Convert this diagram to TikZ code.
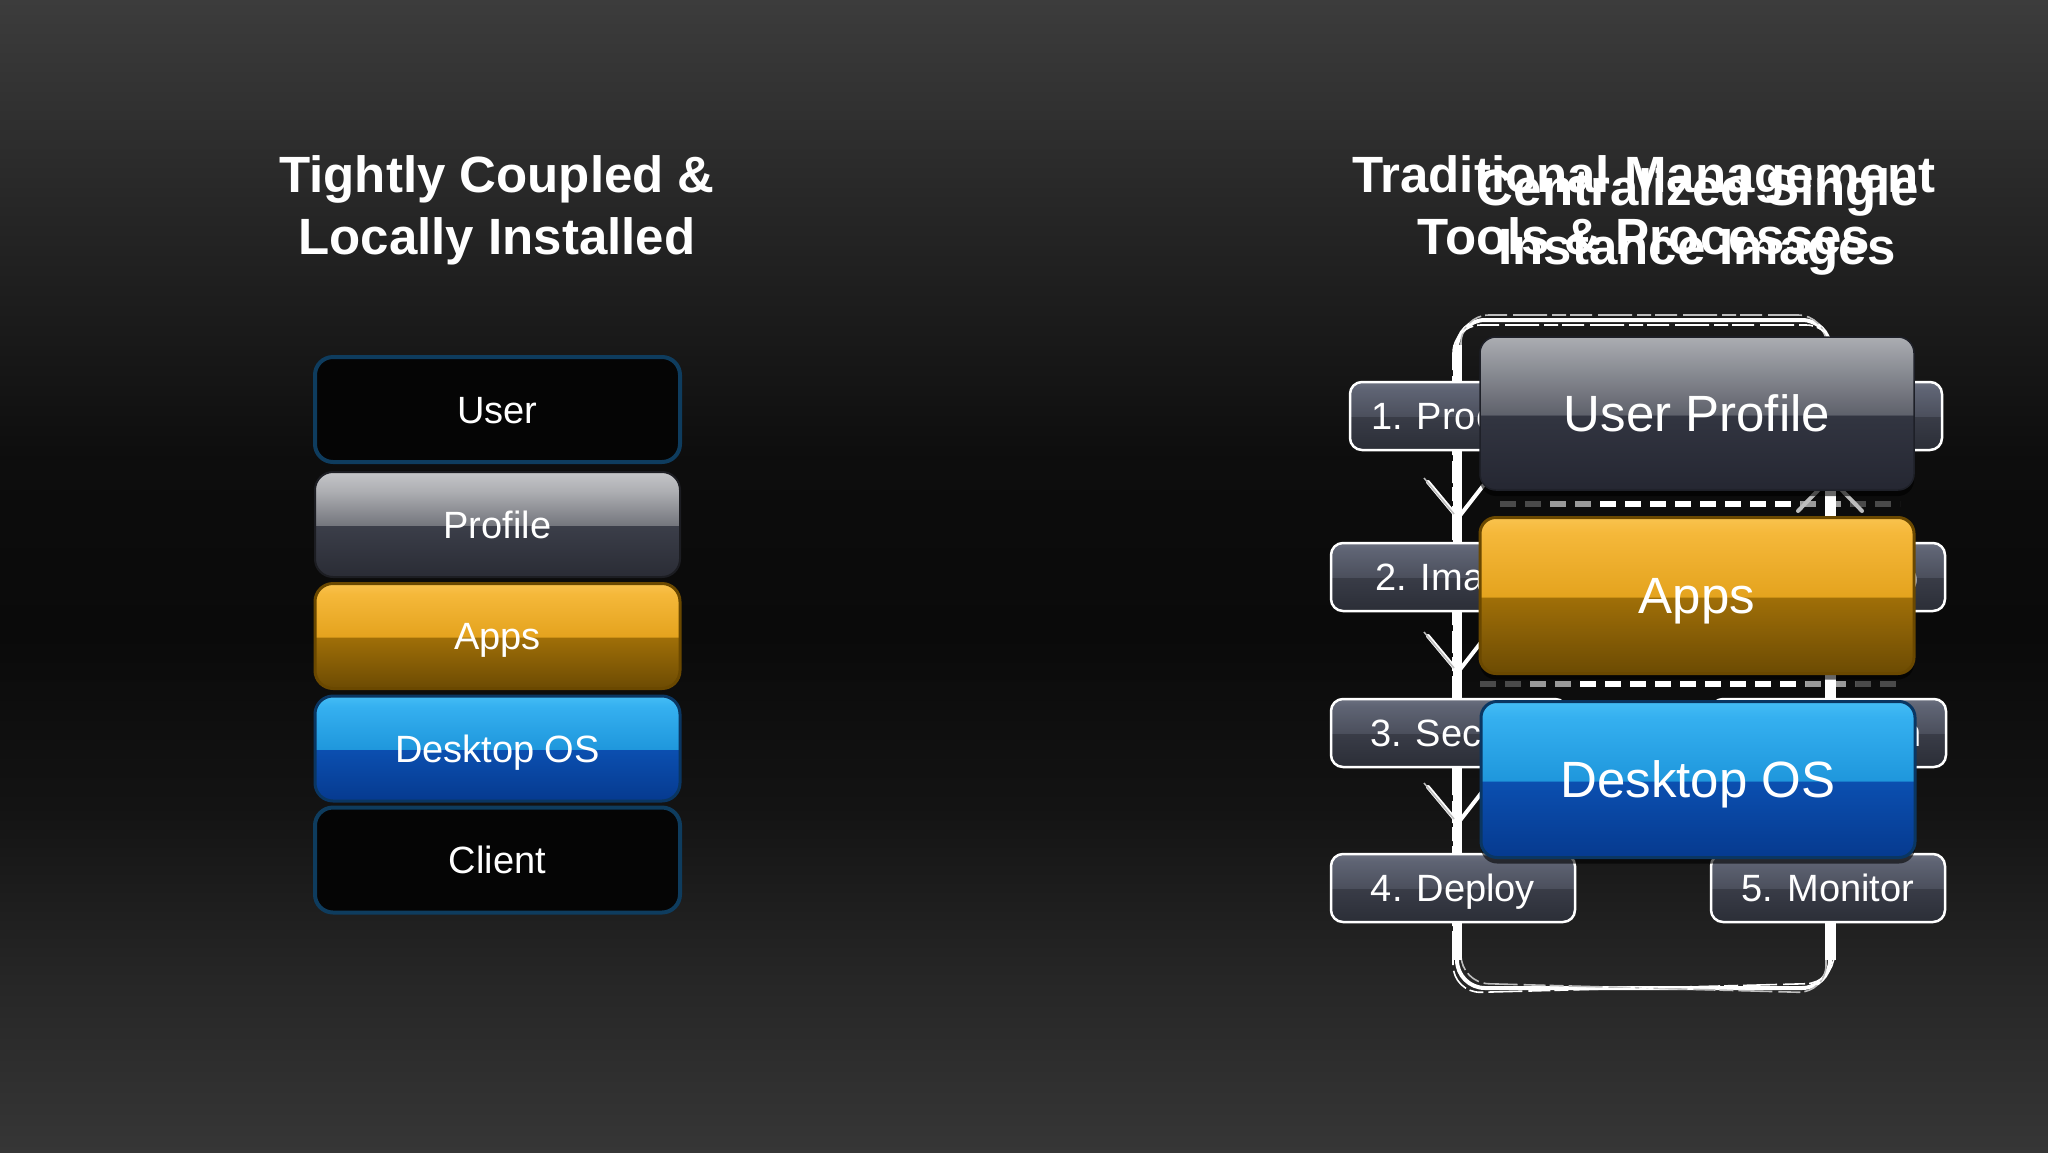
\documentclass[tikz,border=0pt]{standalone}
\usepackage{fontspec}
\setmainfont{Liberation Sans}
\usetikzlibrary{shadows}

% background
\definecolor{bgA}{HTML}{363636}
\definecolor{bgB}{HTML}{262626}
\definecolor{bgC}{HTML}{131313}
\definecolor{bgD}{HTML}{0A0A0A}
\definecolor{bgE}{HTML}{0D0D0D}
\definecolor{bgF}{HTML}{242424}
\definecolor{bgG}{HTML}{3C3C3C}
% gray gloss (Profile)
\definecolor{pgB}{HTML}{2A2C35}
\definecolor{pgC}{HTML}{3B3E49}
\definecolor{pgD}{HTML}{74767D}
\definecolor{pgE}{HTML}{AEAFB3}
\definecolor{pgF}{HTML}{C4C5C8}
% apps gloss
\definecolor{apB}{HTML}{6C4B03}
\definecolor{apC}{HTML}{A06F08}
\definecolor{apD}{HTML}{E4A31E}
\definecolor{apE}{HTML}{F5B83A}
\definecolor{apF}{HTML}{F9C34E}
% desktop gloss
\definecolor{dsB}{HTML}{063A8F}
\definecolor{dsC}{HTML}{0B4FB0}
\definecolor{dsD}{HTML}{1F97DC}
\definecolor{dsE}{HTML}{35B0F0}
\definecolor{dsF}{HTML}{45BDF5}
% small step boxes
\definecolor{sbB}{HTML}{2B2E37}
\definecolor{sbC}{HTML}{393C47}
\definecolor{sbD}{HTML}{4B4F5C}
\definecolor{sbE}{HTML}{5F6474}
\definecolor{sbF}{HTML}{6C7180}
% big user profile
\definecolor{upB}{HTML}{252732}
\definecolor{upC}{HTML}{323541}
\definecolor{upD}{HTML}{5E616B}
\definecolor{upE}{HTML}{9C9EA4}
\definecolor{upF}{HTML}{ABADB2}
% edges
\definecolor{boxblack}{HTML}{050505}
\definecolor{edgeblue}{HTML}{0E3C5E}
\definecolor{profedge}{HTML}{1C1D22}
\definecolor{apedge}{HTML}{6A4800}
\definecolor{dsedge}{HTML}{0A3662}
\definecolor{upedge}{HTML}{1E2028}
\definecolor{dashgray}{HTML}{4A4A4A}
\definecolor{dashmid}{HTML}{9A9A9A}
\definecolor{chalkgray}{HTML}{BDBDBD}

\pgfdeclareverticalshading{bgshade}{100bp}{color(0bp)=(bgA); color(25bp)=(bgA); color(32.5bp)=(bgB); color(40bp)=(bgC); color(47.5bp)=(bgD); color(55bp)=(bgE); color(65bp)=(bgF); color(75bp)=(bgG); color(100bp)=(bgG)}
\pgfdeclareverticalshading{glossgray}{100bp}{color(0bp)=(pgB); color(25bp)=(pgB); color(49.4bp)=(pgC); color(49.6bp)=(pgD); color(66bp)=(pgE); color(75bp)=(pgF); color(100bp)=(pgF)}
\pgfdeclareverticalshading{glossapps}{100bp}{color(0bp)=(apB); color(25bp)=(apB); color(49.4bp)=(apC); color(49.6bp)=(apD); color(70bp)=(apE); color(75bp)=(apF); color(100bp)=(apF)}
\pgfdeclareverticalshading{glossdesk}{100bp}{color(0bp)=(dsB); color(25bp)=(dsB); color(49.4bp)=(dsC); color(49.6bp)=(dsD); color(70bp)=(dsE); color(75bp)=(dsF); color(100bp)=(dsF)}
\pgfdeclareverticalshading{glosssmall}{100bp}{color(0bp)=(sbB); color(25bp)=(sbB); color(49.4bp)=(sbC); color(49.6bp)=(sbD); color(70bp)=(sbE); color(75bp)=(sbF); color(100bp)=(sbF)}
\pgfdeclareverticalshading{glossuser}{100bp}{color(0bp)=(upB); color(25bp)=(upB); color(49.4bp)=(upC); color(49.6bp)=(upD); color(70bp)=(upE); color(75bp)=(upF); color(100bp)=(upF)}

\begin{document}
\begin{tikzpicture}[x=1pt,y=-1pt,
  layer/.style={rounded corners=18pt, minimum width=365pt, minimum height=105pt, inner sep=0pt,
    text=white, font=\fontsize{38}{44}\selectfont, text height=27.2pt, text depth=0pt},
  darklayer/.style={layer, fill=boxblack, draw=edgeblue, line width=4pt},
  bigbox/.style={rounded corners=16pt, minimum width=434pt, inner sep=0pt, text=white,
    font=\fontsize{51}{60}\selectfont, text height=36.5pt, text depth=0pt,
    drop shadow={opacity=0.6, fill=black, shadow xshift=0pt, shadow yshift=-6pt}},
  stepbox/.style={rounded corners=12pt, minimum height=68pt, inner sep=0pt, draw=white,
    line width=2.5pt, shade, shading=glosssmall, text=white,
    font=\fontsize{38}{44}\selectfont, text height=27.2pt, text depth=0pt},
  steptext/.style={text=white, font=\fontsize{38}{44}\selectfont, inner sep=0pt,
    text height=27.2pt, text depth=0pt},
  titletext/.style={text=white, font=\bfseries\fontsize{51}{61}\selectfont, inner sep=0pt, anchor=base},
  chalk/.style={white, line width=4pt, rounded corners=28pt, line cap=round},
  chalktex/.style={chalkgray, line width=1.6pt, rounded corners=28pt,
    dash pattern=on 34pt off 5pt on 14pt off 4pt on 22pt off 6pt},
  chalkarrow/.style={white, line width=4pt, line cap=round, line join=round},
  sepdash/.style={line width=6pt, dash pattern=on 16pt off 9pt}
]
\useasboundingbox (0,0) rectangle (2048,1152);
\shade[shading=bgshade] (0,0) rectangle (2048,1152);

% ---------------- left stack ----------------
\node[titletext] (ltitle1) at (497,192) {Tightly Coupled \&};
\node[titletext] (ltitle2) at (497,254) {Locally Installed};

\node[darklayer] (user) at (497.5,409.5) {User};
\node[layer, shade, shading=glossgray, draw=profedge, line width=2pt] (profile) at (497.5,524.5) {Profile};
\node[layer, shade, shading=glossapps, draw=apedge, line width=3pt] (apps) at (497.5,636) {Apps};
\node[layer, shade, shading=glossdesk, draw=dsedge, line width=3pt] (desk) at (497.5,748.5) {Desktop OS};
\node[darklayer] (client) at (497.5,860) {Client};

% ---------------- right: separators ----------------
\coordinate (da1) at (1500,504);
\coordinate (db1) at (1900,504);
\coordinate (dc1) at (1550,504);
\coordinate (dd1) at (1850,504);
\coordinate (de1) at (1600,504);
\coordinate (df1) at (1800,504);
\draw[sepdash, dashgray] (da1) -- (db1);
\draw[sepdash, dashmid] (dc1) -- (dd1);
\draw[sepdash, white] (de1) -- (df1);
\coordinate (da2) at (1480,684);
\coordinate (db2) at (1900,684);
\coordinate (dc2) at (1530,684);
\coordinate (dd2) at (1855,684);
\coordinate (de2) at (1580,684);
\coordinate (df2) at (1805,684);
\draw[sepdash, dashgray] (da2) -- (db2);
\draw[sepdash, dashmid] (dc2) -- (dd2);
\draw[sepdash, white] (de2) -- (df2);

% ---------------- chalk cycle ----------------
\coordinate (clt) at (1457,320);
\coordinate (crt) at (1830,320);
\coordinate (crb) at (1830,988);
\coordinate (clb) at (1457,988);
\draw[chalk] (clb) -- (clt) -- (crt) -- (crb) -- cycle;
\draw[chalktex] ([shift={(4,-5)}]clb) -- ([shift={(4,-5)}]clt) -- ([shift={(-4,-5)}]crt) -- ([shift={(-4,5)}]crb) -- cycle;
\draw[chalktex, white] ([shift={(-4,5)}]clb) -- ([shift={(-4,5)}]clt) -- ([shift={(4,5)}]crt) -- ([shift={(4,-5)}]crb) -- cycle;
\coordinate (cl1) at (1457,345);
\coordinate (cl2) at (1457,960);
\coordinate (cr1) at (1830,345);
\coordinate (cr2) at (1830,960);
\draw[white, line width=9pt] (cl1) -- (cl2);
\draw[white, line width=11pt] (cr1) -- (cr2);

% downward chevrons on the left
\coordinate (ar1) at (1458,518);
\coordinate (ar2) at (1458,672);
\coordinate (ar3) at (1458,823);
\foreach \a in {ar1,ar2,ar3}{
  \draw[chalkarrow] ([shift={(-30,-36)}]\a) -- (\a) -- ([shift={(28,-36)}]\a);
  \draw[chalkgray, line width=1.5pt] ([shift={(-34,-40)}]\a) -- ([shift={(-4,-4)}]\a);
}
% upward chevron on the right
\coordinate (ar4) at (1830,478);
\draw[chalkarrow, chalkgray] ([shift={(-32,33)}]ar4) -- (ar4) -- ([shift={(32,33)}]ar4);

% ---------------- step boxes ----------------
\node[stepbox, minimum width=240pt] (s1) at (1470,416) {};
\node[stepbox, minimum width=242pt] (s8) at (1821,416) {};
\node[stepbox, minimum width=244pt] (s2) at (1453,577) {};
\node[stepbox, minimum width=234pt] (s7) at (1828,577) {};
\node[stepbox, minimum width=236pt] (s3) at (1449,733) {};
\node[stepbox, minimum width=235pt] (s6) at (1828.5,733) {};
\node[stepbox, minimum width=244pt] (s4) at (1453,888) {4. Deploy};
\node[stepbox, minimum width=234pt] (s5) at (1828,888) {5. Monitor};

\node[steptext, anchor=west] (t1) at (1371,416) {1. Proc};
\node[steptext, anchor=west] (t2) at (1375,577) {2. Ima};
\node[steptext, anchor=west] (t3) at (1370,733) {3. Sec};
\node[steptext, anchor=east] (t7) at (1919,577) {p};
\node[steptext, anchor=east] (t6) at (1922,733) {n};

% ---------------- big layer boxes ----------------
\node[bigbox, minimum height=153pt, shade, shading=glossuser, draw=upedge, line width=1.5pt] (bup) at (1697,413.5) {User Profile};
\node[bigbox, minimum height=156pt, shade, shading=glossapps, draw=apedge, line width=3pt] (bap) at (1697,595.5) {Apps};
\node[bigbox, minimum height=156pt, shade, shading=glossdesk, draw=dsedge, line width=3pt] (bds) at (1698,779.5) {Desktop OS};

% ---------------- right titles (overlapping transition) ----------------
\node[titletext] (rtitle1) at (1644,192) {Traditional Management};
\node[titletext] (rtitle2) at (1644,254) {Tools \& Processes};
\node[titletext] (rtitle3) at (1698,205) {Centralized Single};
\node[titletext] (rtitle4) at (1697,264) {Instance Images};
\end{tikzpicture}
\end{document}
